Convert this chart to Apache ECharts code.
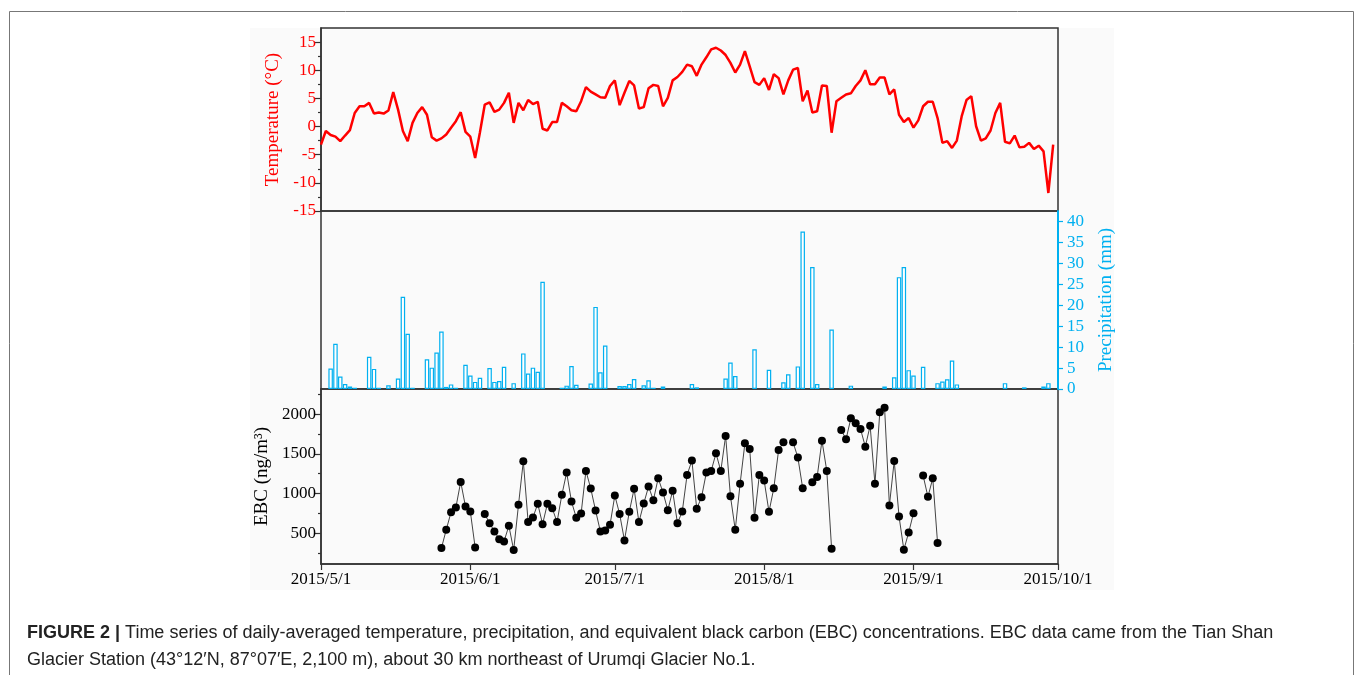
<!DOCTYPE html>
<html><head><meta charset="utf-8">
<script src="https://cdn.jsdelivr.net/npm/echarts@6/dist/echarts.min.js"></script>
<style>html,body{margin:0;padding:0;background:#fff}#c{width:1355px;height:675px}</style>
</head><body><div id="c"></div>
<script>
const monthLabels = ['2015/5/1','2015/6/1','2015/7/1','2015/8/1','2015/9/1','2015/10/1'];
const monthDays = [0,31,61,92,123,153];

// daily temperature (°C), day 0 = 2015/5/1
const temperature = [
 -3.2,-0.8,-1.5,-1.8,-2.6,-1.6,-0.65,2.4,3.6,3.6,
 4.2,2.3,2.5,2.3,2.85,6.1,3.0,-0.8,-2.6,0.65,
 2.4,3.45,2.1,-1.9,-2.5,-2.1,-1.4,-0.2,0.95,2.55,
 -0.95,-1.8,-5.6,-1.0,3.9,4.3,2.6,3.0,4.2,6.0,
 0.65,4.2,2.9,4.7,4.0,4.4,-0.4,-0.7,0.8,0.8,
 4.2,3.6,2.9,2.7,4.5,7.0,6.2,5.7,5.2,5.1,
 7.2,8.2,3.8,6.0,8.1,7.3,3.2,3.45,6.8,7.4,
 7.2,3.6,5.1,8.2,8.8,9.7,11.0,10.7,9.0,11.0,
 12.3,13.7,14.0,13.5,12.7,11.3,9.6,11.0,13.4,10.7,
 7.9,7.4,8.6,6.5,9.3,8.6,5.7,8.2,10.1,10.4,
 4.5,6.4,2.5,2.7,7.3,7.2,-1.1,4.5,5.1,5.7,
 5.9,7.2,8.2,10.0,7.5,7.5,8.7,8.7,5.7,6.6,
 2.1,0.8,1.5,-0.2,1.1,3.6,4.4,4.4,1.5,-2.9,
 -2.6,-3.8,-2.5,1.8,4.7,5.4,0.05,-2.5,-2.1,-0.7,
 2.4,4.2,-2.7,-3.0,-1.6,-3.7,-3.6,-2.9,-4.0,-3.4,
 -4.4,-11.8,-3.2
];

// precipitation (mm): days with rain and amounts
const precipDays = [2,3,4,5,6,7,10,11,12,14,16,17,18,19,22,23,24,25,26,27,28,30,31,32,33,35,36,37,38,40,42,43,44,45,46,50,51,52,53,56,57,58,59,62,63,64,65,67,68,69,71,77,78,84,85,86,90,93,96,97,99,100,102,103,106,110,117,119,120,121,122,123,125,128,129,130,131,132,142,146,150,151];
const precipValues = [4.9,10.8,3.0,1.2,0.6,0.3,7.7,4.8,0.3,0.9,2.5,22.0,13.2,0.3,7.1,5.1,8.7,13.7,0.5,1.1,0.3,5.8,3.2,1.7,2.7,5.0,1.7,1.9,5.3,1.4,8.5,3.7,5.1,4.1,25.6,0.3,0.8,5.5,1.0,1.3,19.6,4.0,10.4,0.7,0.7,1.2,2.4,0.9,2.1,0.3,0.6,1.2,0.4,2.5,6.3,3.1,9.5,4.6,1.6,3.5,5.4,37.6,29.1,1.2,14.2,0.8,0.6,2.8,26.7,29.1,4.5,3.2,5.3,1.4,1.8,2.3,6.8,1.1,1.4,0.4,0.6,1.4];

// EBC (ng/m3), first day = 25 (2015/5/26); null = missing
const ebcStartDay = 25;
const ebcValues = [
 311,542,765,824,1147,836,773,319,null,740,
 626,521,424,395,593,286,857,1408,639,698,
 870,613,870,815,639,983,1265,899,693,748,
 1286,1063,786,521,534,605,975,740,408,769,
 1059,639,874,1088,916,1193,1013,790,1034,626,
 773,1235,1416,807,954,1265,1286,1508,1286,1727,
 966,542,1122,1634,1563,693,1235,1164,769,1067,
 1550,1647,null,1647,1454,1067,null,1143,1210,1668,
 1286,303,null,1803,1685,1950,1887,1815,1592,1857,
 1122,2025,2084,849,1412,710,290,508,752,null,
 1227,958,1193,374
];

const tempTicks = [-15,-10,-5,0,5,10,15];
const tempMinor = [-12.5,-7.5,-2.5,2.5,7.5,12.5];
const precipTicks = [0,5,10,15,20,25,30,35,40];
const ebcTicks = [500,1000,1500,2000];
const ebcMinor = [250,750,1250,1750,2250];

const SERIF = '"Liberation Serif","Times New Roman",serif';
const SANS = '"Liberation Sans",Arial,sans-serif';
const RED = '#ff0000', CYAN = '#00b0f0', DARK = '#333';

const chart = echarts.init(document.getElementById('c'), null, {renderer:'canvas'});
const L = 321, W = 737;
const grids = [
  {left:L, top:28, width:W, height:183},
  {left:L, top:211, width:W, height:178},
  {left:L, top:389, width:W, height:175}
].map(g => Object.assign(g, {show:true, borderColor:DARK, borderWidth:1.5, backgroundColor:'transparent', containLabel:false}));

function xAx(i, show){
  return {type:'value', gridIndex:i, min:0, max:153, show:show,
    axisLine:{show:true, onZero:false, lineStyle:{color:DARK, width:1.5}},
    axisTick:{show:true, length:6, lineStyle:{color:DARK, width:1.2}, customValues:monthDays},
    axisLabel:{show:true, customValues:monthDays, margin:7, fontFamily:SERIF, fontSize:17, color:'#000',
      formatter:(v)=>{const k=monthDays.indexOf(Math.round(v)); return k>=0?monthLabels[k]:'';}},
    splitLine:{show:false}};
}
function yAx(o){
  return Object.assign({type:'value', splitLine:{show:false}}, o);
}
const plain = (v)=>String(v);

const option = {
  animation:false,
  backgroundColor:'#ffffff',
  grid: grids,
  xAxis:[xAx(0,false), xAx(1,false), xAx(2,true)],
  yAxis:[
    yAx({gridIndex:0, min:-15, max:17.5, position:'left',
      name:'Temperature (°C)', nameLocation:'middle', nameRotate:90, nameGap:38,
      nameTextStyle:{color:RED, fontFamily:SERIF, fontSize:19},
      axisLine:{show:true, onZero:false, lineStyle:{color:DARK, width:1.5}},
      axisTick:{show:true, length:6, customValues:tempTicks, lineStyle:{color:DARK, width:1.2}},
      axisLabel:{customValues:tempTicks, color:RED, fontFamily:SERIF, fontSize:17, margin:5, formatter:plain}}),
    yAx({gridIndex:0, min:-15, max:17.5, position:'left',
      axisLine:{show:false, onZero:false},
      axisTick:{show:true, length:3, customValues:tempMinor, lineStyle:{color:DARK, width:1.2}},
      axisLabel:{show:false}}),
    yAx({gridIndex:1, min:0, max:42.5, position:'right',
      name:'Precipitation (mm)', nameLocation:'middle', nameRotate:90, nameGap:39,
      nameTextStyle:{color:CYAN, fontFamily:SERIF, fontSize:19},
      axisLine:{show:true, onZero:false, lineStyle:{color:CYAN, width:2}},
      axisTick:{show:true, length:5, customValues:precipTicks, lineStyle:{color:CYAN, width:1.2}},
      axisLabel:{customValues:precipTicks, color:CYAN, fontFamily:SERIF, fontSize:17, margin:9, formatter:plain}}),
    yAx({gridIndex:2, min:110, max:2320, position:'left',
      name:'EBC (ng/m³)', nameLocation:'middle', nameRotate:90, nameGap:47,
      nameTextStyle:{color:'#000', fontFamily:SERIF, fontSize:19},
      axisLine:{show:true, onZero:false, lineStyle:{color:DARK, width:1.5}},
      axisTick:{show:true, length:6, customValues:ebcTicks, lineStyle:{color:DARK, width:1.2}},
      axisLabel:{customValues:ebcTicks, color:'#000', fontFamily:SERIF, fontSize:17, margin:5, formatter:plain}}),
    yAx({gridIndex:2, min:110, max:2320, position:'left',
      axisLine:{show:false, onZero:false},
      axisTick:{show:true, length:3, customValues:ebcMinor, lineStyle:{color:DARK, width:1.2}},
      axisLabel:{show:false}})
  ],
  graphic:[
    {type:'rect', z:-100, silent:true, shape:{x:9.5, y:11.5, width:1344, height:700}, style:{fill:'#fff', stroke:'#777', lineWidth:1}},
    {type:'rect', z:-90, silent:true, shape:{x:250, y:28, width:864, height:562}, style:{fill:'#fafafa'}},
    {type:'text', left:27, top:624, style:{
      text:'{b|FIGURE 2 |} Time series of daily-averaged temperature, precipitation, and equivalent black carbon (EBC) concentrations. EBC data came from the Tian Shan',
      fontFamily:SANS, fontSize:18, fill:'#222',
      rich:{b:{fontWeight:'bold', fontFamily:SANS, fontSize:18, fill:'#222'}}}},
    {type:'text', left:27, top:651, style:{
      text:'Glacier Station (43°12′N, 87°07′E, 2,100 m), about 30 km northeast of Urumqi Glacier No.1.',
      fontFamily:SANS, fontSize:18, fill:'#222'}}
  ],
  series:[
    {type:'line', name:'Temperature', xAxisIndex:0, yAxisIndex:0, symbol:'none',
     lineStyle:{color:RED, width:2.5}, itemStyle:{color:RED},
     data: temperature.map((v,i)=>[i,v])},
    {type:'bar', name:'Precipitation', xAxisIndex:1, yAxisIndex:2, barWidth:4.5,
     itemStyle:{color:'rgba(255,255,255,0.9)', borderColor:CYAN, borderWidth:1.2},
     data: precipDays.map((d,i)=>[d, precipValues[i]])},
    {type:'line', name:'EBC', xAxisIndex:2, yAxisIndex:3, symbol:'circle', symbolSize:8,
     connectNulls:false, itemStyle:{color:'#000'}, lineStyle:{color:'#444', width:1},
     data: ebcValues.map((v,i)=>[ebcStartDay+i, v===null?'-':v])}
  ]
};
chart.setOption(option);
</script></body></html>
